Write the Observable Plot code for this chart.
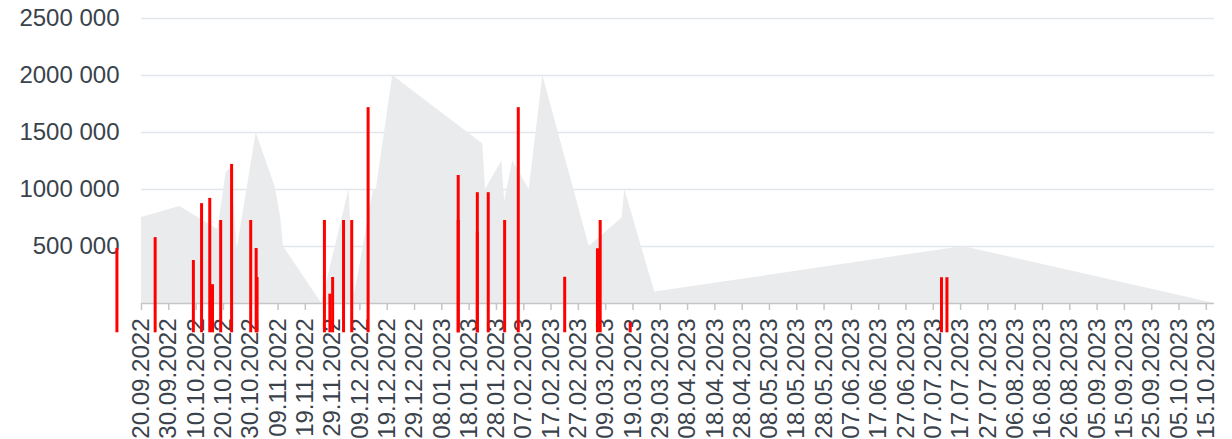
<!DOCTYPE html>
<html>
<head>
<meta charset="utf-8">
<script src="https://cdn.jsdelivr.net/npm/d3@7"></script>
<script src="https://cdn.jsdelivr.net/npm/@observablehq/plot@0.6"></script>
<style>
  html, body { margin: 0; padding: 0; background: #fff; }
  #chart svg { display: block; }
</style>
</head>
<body>
<div id="chart"></div>
<script>
// Grey area series
const areaDates = ["2022-09-20","2022-10-04","2022-10-18","2022-10-21","2022-10-23","2022-10-25","2022-11-01","2022-11-08","2022-11-10","2022-11-11","2022-11-25","2022-12-05","2022-12-07","2022-12-14","2022-12-15","2022-12-21","2023-01-23","2023-01-24","2023-01-30","2023-01-31","2023-02-03","2023-02-09","2023-02-14","2023-03-03","2023-03-15","2023-03-16","2023-03-27","2023-07-18","2023-10-18"];
const areaValues = [754000,850000,650000,1150000,1190000,465000,1500000,1020000,750000,500000,0,1000000,70000,1000000,1000000,2000000,1400000,1000000,1250000,900000,1250000,1000000,2000000,500000,750000,1000000,100000,500000,0];

// Red bars series (top of each bar, read on the y axis)
const barDates = ["2022-09-11","2022-09-25","2022-10-09","2022-10-12","2022-10-15","2022-10-16","2022-10-19","2022-10-23","2022-10-30","2022-11-01","2022-11-01T08:00","2022-11-26","2022-11-28","2022-11-29","2022-12-03","2022-12-06","2022-12-12","2023-01-14","2023-01-14","2023-01-21","2023-01-21","2023-01-25","2023-01-31","2023-02-05","2023-02-22","2023-03-06","2023-03-07","2023-03-18","2023-07-10","2023-07-12"];
const barValues = [482000,578000,377000,876000,922000,165000,728000,1220000,728000,482000,228000,728000,82000,228000,728000,728000,1718000,1123000,728000,972000,626000,972000,728000,1718000,230000,480000,728000,-165000,226000,226000];
const barBase = -257000;

// Axis ticks
const yTicks = [500000,1000000,1500000,2000000,2500000];
const xTickLabels = ["20.09.2022","30.09.2022","10.10.2022","20.10.2022","30.10.2022","09.11.2022","19.11.2022","29.11.2022","09.12.2022","19.12.2022","29.12.2022","08.01.2023","18.01.2023","28.01.2023","07.02.2023","17.02.2023","27.02.2023","09.03.2023","19.03.2023","29.03.2023","08.04.2023","18.04.2023","28.04.2023","08.05.2023","18.05.2023","28.05.2023","07.06.2023","17.06.2023","27.06.2023","07.07.2023","17.07.2023","27.07.2023","06.08.2023","16.08.2023","26.08.2023","05.09.2023","15.09.2023","25.09.2023","05.10.2023","15.10.2023"];
const xDomain = ["2022-09-20","2023-10-18"];

const parseISO = s => new Date(s.length > 10 ? s + "Z" : s + "T00:00Z");
const parseDMY = s => { const [d,m,y] = s.split("."); return new Date(Date.UTC(+y, +m - 1, +d)); };
const fmtDMY = d3.utcFormat("%d.%m.%Y");

const area = areaDates.map((d, i) => ({date: parseISO(d), value: areaValues[i]}));
const bars = barDates.map((d, i) => ({date: parseISO(d), value: barValues[i]}));
const xTicks = xTickLabels.map(parseDMY);

const textColor = "#3a434c";
const font = "'Liberation Sans', Arial, Helvetica, sans-serif";

const chart = Plot.plot({
  width: 1232,
  height: 439,
  marginLeft: 141,
  marginRight: 18,
  marginTop: 18,
  marginBottom: 136,
  style: {fontFamily: font, fontSize: "24px", color: textColor, background: "#fff", overflow: "visible"},
  x: {type: "utc", domain: xDomain.map(parseISO)},
  y: {domain: [0, 2500000]},
  marks: [
    Plot.gridY(yTicks, {stroke: "#e2e5ea", strokeOpacity: 1, strokeWidth: 1.5}),
    Plot.areaY(area, {x: "date", y: "value", fill: "#eaebed", curve: "linear"}),
    Plot.ruleY([0], {stroke: "#c6c6c6", strokeWidth: 1.5}),
    Plot.axisY(yTicks, {
      tickSize: 0, tickPadding: 22, fontSize: 24, fill: textColor,
      tickFormat: d => `${Math.round(d / 1000)} 000`, label: null
    }),
    Plot.axisX(xTicks, {
      tickSize: 7, tickPadding: 8, tickRotate: -90, fontSize: 24,
      stroke: "#c6c6c6", strokeWidth: 1.5, fill: textColor,
      tickFormat: fmtDMY, label: null
    }),
    Plot.ruleX(bars, {x: "date", y1: barBase, y2: "value", stroke: "#ff0000", strokeWidth: 3})
  ]
});
document.getElementById("chart").append(chart);
</script>
</body>
</html>
